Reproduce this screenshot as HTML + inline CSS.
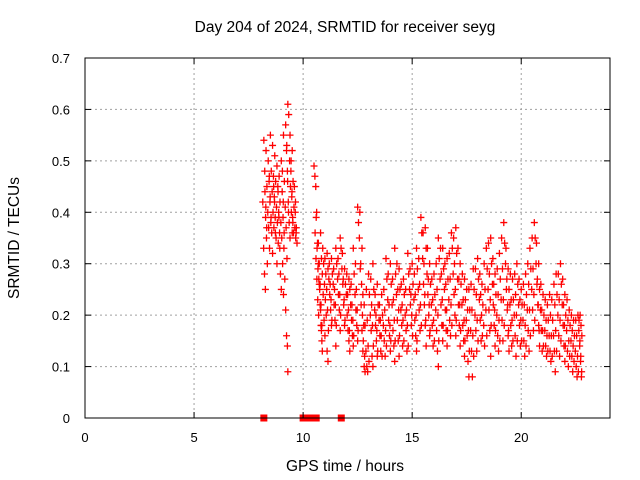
<!DOCTYPE html>
<html><head><meta charset="utf-8"><style>
body{margin:0;background:#fff}
svg{display:block;font-family:"Liberation Sans",sans-serif;font-size:13px}
.big{font-size:15.5px}
</style></head><body>
<svg id="chart" width="640" height="480" xmlns="http://www.w3.org/2000/svg">
<rect width="640" height="480" fill="#fff"/>
<g id="grid"></g>
<g id="points"></g>
<rect x="85" y="58" width="525" height="360" fill="none" stroke="#000" stroke-width="1"/>
<g id="ticks"></g>
<text class="big" x="345" y="32" text-anchor="middle">Day 204 of 2024, SRMTID for receiver seyg</text>
<text class="big" x="345" y="471" text-anchor="middle">GPS time / hours</text>
<text class="big" x="0" y="0" transform="translate(19,238) rotate(-90)" text-anchor="middle">SRMTID / TECUs</text>
</svg>
<script>
const xTicks=[0,5,10,15,20];
const yTicks=[0,0.1,0.2,0.3,0.4,0.5,0.6,0.7];
const yTickLabels=["0","0.1","0.2","0.3","0.4","0.5","0.6","0.7"];
const groupHours=[8.15,8.2,8.3,8.4,8.5,8.6,8.7,8.8,8.9,9.0,9.1,9.2,9.3,9.4,9.5,9.6,
10.5,10.6,10.8,10.9,11.1,11.3,11.5,11.7,11.9,12.1,12.3,12.5,12.6,12.8,13.0,13.2,13.4,13.6,13.8,14.0,14.2,14.4,14.6,14.8,15.0,15.2,15.4,15.6,15.8,16.0,16.2,16.4,16.6,16.8,17.0,17.2,17.4,17.6,17.8,18.0,18.2,18.4,18.6,18.8,19.0,19.2,19.4,19.6,19.8,20.0,20.2,20.4,20.6,20.8,21.0,21.2,21.4,21.6,21.8,22.0,22.2,22.4,22.6,22.7];
const groupValues=[
[0.42,0.33,0.28,0.25],[0.54,0.48,0.39,0.35,0.30],[0.52,0.45,0.40,0.37,0.33],[0.50,0.46,0.42,0.38,0.36,0.32],
[0.55,0.48,0.44,0.40,0.37],[0.53,0.47,0.43,0.39,0.35,0.30],[0.51,0.46,0.41,0.38,0.34],[0.49,0.45,0.40,0.36,0.28,0.25],
[0.47,0.42,0.38,0.35,0.30,0.24],[0.50,0.44,0.39,0.33,0.27,0.21,0.16,0.14],[0.55,0.46,0.41,0.37,0.31,0.09],
[0.57,0.52,0.48,0.42,0.38,0.35],[0.61,0.59,0.50,0.45,0.40,0.36],[0.55,0.48,0.43,0.39,0.36],[0.52,0.46,0.41,0.37,0.35],[0.45,0.40,0.36,0.34],
[0.49,0.47,0.45,0.40,0.34,0.30,0.26,0.22,0.18,0.15],[0.39,0.33,0.29,0.27,0.25,0.21,0.17,0.13],[0.36,0.31,0.28,0.24,0.19,0.16],
[0.33,0.30,0.26,0.23,0.20,0.13,0.11],[0.32,0.29,0.27,0.24,0.21,0.18],[0.31,0.28,0.26,0.22,0.19,0.14],[0.33,0.30,0.27,0.24,0.21,0.17],
[0.35,0.33,0.29,0.26,0.22,0.18],[0.29,0.26,0.24,0.20,0.17,0.15,0.13],[0.27,0.25,0.22,0.19,0.16,0.14],[0.33,0.28,0.24,0.21,0.18,0.15],
[0.41,0.38,0.35,0.29,0.22,0.17,0.13],[0.40,0.30,0.26,0.20,0.15,0.10,0.09],[0.22,0.18,0.13,0.10,0.09],[0.28,0.24,0.20,0.17,0.12,0.10],
[0.30,0.25,0.21,0.18,0.15,0.12],[0.26,0.22,0.19,0.16,0.13],[0.24,0.20,0.18,0.15,0.12],[0.31,0.27,0.23,0.19,0.16,0.13],
[0.30,0.26,0.22,0.17,0.14,0.11],[0.33,0.28,0.24,0.19,0.15,0.12],[0.29,0.25,0.21,0.18,0.14],[0.27,0.24,0.20,0.17,0.13],
[0.32,0.28,0.25,0.22,0.18],[0.30,0.26,0.23,0.19,0.16,0.13],[0.33,0.29,0.25,0.21,0.17],[0.39,0.36,0.31,0.26,0.22,0.18,0.14],
[0.37,0.33,0.28,0.24,0.20,0.16],[0.30,0.26,0.22,0.18,0.14],[0.28,0.24,0.21,0.17,0.13,0.10],[0.35,0.31,0.27,0.22,0.18,0.15],
[0.33,0.29,0.25,0.21,0.17,0.14],[0.31,0.27,0.23,0.19,0.16],[0.36,0.33,0.28,0.24,0.20,0.16],[0.37,0.32,0.27,0.22,0.18,0.14],
[0.30,0.26,0.22,0.18,0.15,0.12],[0.27,0.23,0.19,0.16,0.11,0.08],[0.25,0.21,0.17,0.13,0.08],[0.29,0.25,0.20,0.17,0.13],
[0.31,0.27,0.23,0.19,0.15],[0.26,0.22,0.18,0.14],[0.33,0.29,0.25,0.21,0.17,0.12],[0.35,0.30,0.26,0.22,0.18,0.14],
[0.28,0.24,0.20,0.16,0.13],[0.32,0.27,0.23,0.19,0.15],[0.38,0.34,0.30,0.25,0.21,0.16,0.13],[0.29,0.25,0.22,0.18,0.14],
[0.27,0.23,0.20,0.16,0.12],[0.30,0.26,0.22,0.18,0.14],[0.25,0.22,0.19,0.15,0.12],[0.28,0.24,0.21,0.17,0.13],
[0.33,0.29,0.25,0.21,0.17],[0.38,0.35,0.30,0.26,0.22,0.18,0.14],[0.30,0.25,0.21,0.17,0.13],[0.24,0.20,0.17,0.14,0.12],
[0.22,0.19,0.16,0.13,0.11],[0.23,0.19,0.16,0.13,0.09],[0.28,0.24,0.20,0.16,0.12],[0.30,0.26,0.22,0.18,0.14,0.11],
[0.24,0.20,0.17,0.13,0.10],[0.21,0.18,0.15,0.12,0.09],[0.19,0.16,0.13,0.10,0.08],[0.20,0.17,0.14,0.11,0.08],[0.20,0.18,0.16]];
const extraHours=[8.25,8.45,8.65,8.85,9.05,9.25,9.45,9.65,10.55,10.7,11.0,11.2,11.4,11.6,11.8,12.0,12.2,12.4,12.7,12.9,13.1,13.3,13.5,13.7,13.9,14.1,14.3,14.5,14.7,14.9,15.1,15.3,15.5,15.7,15.9,16.1,16.3,16.5,16.7,16.9,17.1,17.3,17.5,17.7,17.9,18.1,18.3,18.5,18.7,18.9,19.1,19.3,19.5,19.7,19.9,20.1,20.3,20.5,20.7,20.9,21.1,21.3,21.5,21.7,21.9,22.1,22.3,22.5,22.65];
const extraValues=[
[0.44,0.41,0.37],[0.47,0.43,0.39],[0.45,0.42,0.36],[0.44,0.39,0.33],[0.48,0.42,0.36],[0.53,0.46,0.40],[0.50,0.44,0.38],[0.42,0.37],
[0.36,0.31,0.27,0.23,0.20],[0.34,0.30,0.26,0.22,0.18],[0.31,0.28,0.25,0.21,0.17],[0.30,0.26,0.23,0.19],[0.29,0.25,0.22,0.18],[0.31,0.28,0.24,0.20],
[0.32,0.27,0.23,0.19],[0.28,0.24,0.21,0.17],[0.26,0.22,0.19,0.16],[0.30,0.25,0.21,0.17],[0.33,0.24,0.18,0.12],[0.25,0.19,0.14,0.11],
[0.27,0.22,0.18,0.14],[0.24,0.20,0.17,0.13],[0.22,0.19,0.16,0.12],[0.25,0.21,0.17,0.14],[0.28,0.22,0.18,0.15],[0.27,0.23,0.19,0.15],
[0.30,0.25,0.21,0.16],[0.26,0.22,0.19,0.15],[0.25,0.21,0.18,0.14],[0.29,0.24,0.20,0.16],[0.28,0.24,0.20,0.15],[0.31,0.26,0.22,0.18],
[0.36,0.30,0.24,0.19],[0.33,0.27,0.22,0.17],[0.27,0.23,0.19,0.15],[0.30,0.25,0.20,0.15],[0.33,0.28,0.23,0.18],[0.30,0.26,0.21,0.17],
[0.32,0.27,0.22,0.18],[0.35,0.30,0.25,0.19],[0.33,0.27,0.22,0.17],[0.28,0.23,0.19,0.15],[0.25,0.21,0.17,0.13],[0.26,0.21,0.16,0.12],
[0.29,0.24,0.19,0.15],[0.28,0.24,0.20,0.16],[0.30,0.25,0.21,0.16],[0.34,0.28,0.23,0.18],[0.31,0.26,0.21,0.17],[0.29,0.24,0.19,0.15],
[0.35,0.29,0.23,0.18],[0.33,0.27,0.22,0.17],[0.28,0.23,0.19,0.15],[0.28,0.24,0.20,0.15],[0.27,0.23,0.19,0.15],[0.26,0.22,0.18,0.14],
[0.30,0.26,0.21,0.16],[0.35,0.29,0.24,0.19],[0.34,0.27,0.22,0.17],[0.26,0.21,0.17,0.14],[0.23,0.19,0.16,0.13],[0.24,0.20,0.16,0.12],
[0.26,0.22,0.17,0.13],[0.28,0.23,0.19,0.15],[0.27,0.22,0.18,0.14],[0.23,0.19,0.15,0.12],[0.20,0.17,0.14,0.11],[0.19,0.16,0.12,0.09],[0.19,0.15,0.12,0.09]];
const zeroHours=[8.2,10.0,10.15,10.3,10.45,10.6,11.75];

const NS="http://www.w3.org/2000/svg";
const X0=85,X1=610,Y0=418,Y1=58,XMAX=24.07,YMAX=0.7;
function sx(h){return X0+(h/XMAX)*(X1-X0);}
function sy(v){return Y0-(v/YMAX)*(Y0-Y1);}
function mk(tag,attrs,parent){const e=document.createElementNS(NS,tag);for(const k in attrs)e.setAttribute(k,attrs[k]);parent.appendChild(e);return e;}
const grid=document.getElementById('grid'),ticks=document.getElementById('ticks'),pts=document.getElementById('points');
xTicks.forEach((t,i)=>{
  const x=sx(t);
  if(t>0){const l=mk('line',{x1:x,x2:x,y1:Y1,y2:Y0,stroke:'#a0a0a0','stroke-dasharray':'2,3'},grid);
  
  }
  mk('line',{x1:x,x2:x,y1:Y0,y2:Y0-6,stroke:'#000'},ticks);
  mk('line',{x1:x,x2:x,y1:Y1,y2:Y1+6,stroke:'#000'},ticks);
  const tx=mk('text',{x:x,y:442,'text-anchor':'middle'},ticks);tx.textContent=String(t);
  
  
});
yTicks.forEach((t,i)=>{
  const y=sy(t);
  if(t>0&&t<YMAX){const l=mk('line',{x1:X0,x2:X1,y1:y,y2:y,stroke:'#a0a0a0','stroke-dasharray':'2,3'},grid);
  
  }
  mk('line',{x1:X0,x2:X0+6,y1:y,y2:y,stroke:'#000'},ticks);
  mk('line',{x1:X1,x2:X1-6,y1:y,y2:y,stroke:'#000'},ticks);
  const tx=mk('text',{x:70,y:y+5,'text-anchor':'end'},ticks);tx.textContent=yTickLabels[i];
  
  
});
function plotGroups(hours,values,color,name){
  hours.forEach((h,g)=>{
    values[g].forEach((v,k)=>{
      const x=sx(h+k*0.04),y=sy(v);
      const p=mk('path',{d:`M${x-3.5},${y}h7M${x},${y-3.5}v7`,stroke:color,'stroke-width':1.3,fill:'none'},pts);
      
      
    });
  });
}
plotGroups(extraHours,extraValues,'#ff0000','srmtid-point');
plotGroups(groupHours,groupValues,'#ff0000','srmtid-point');
zeroHours.forEach(h=>{
  const r=mk('rect',{x:sx(h)-3.5,y:Y0-3.5,width:7,height:7,fill:'#ff0000'},pts);
  
  
});
</script>
</body></html>
